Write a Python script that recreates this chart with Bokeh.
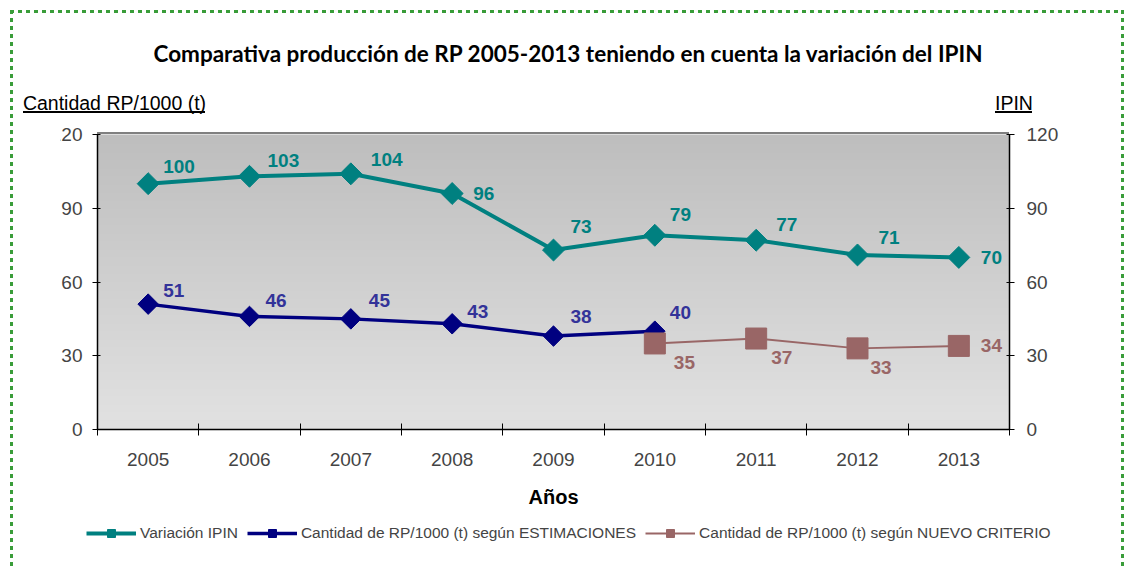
import numpy as np
from bokeh.plotting import figure
from bokeh.models import (Range1d, LinearAxis, FixedTicker, Legend, LegendItem,
                          ColumnDataSource, InlineStyleSheet)
from bokeh.core.properties import value
from bokeh.embed import file_html
from bokeh.resources import INLINE

# ---------------- data ----------------
years = [2005, 2006, 2007, 2008, 2009, 2010, 2011, 2012, 2013]
ipin = [100, 103, 104, 96, 73, 79, 77, 71, 70]
est_years = [2005, 2006, 2007, 2008, 2009, 2010]
est = [51, 46, 45, 43, 38, 40]
nuevo_years = [2010, 2011, 2012, 2013]
nuevo = [35, 37, 33, 34]
y_ticks = [0, 30, 60, 90, 120]

title_text = "Comparativa producción de RP 2005-2013 teniendo en cuenta la variación del IPIN"
left_title = "Cantidad RP/1000 (t)"
right_title = "IPIN"
x_title = "Años"
legend_labels = ["Variación IPIN",
                 "Cantidad de RP/1000 (t) según ESTIMACIONES",
                 "Cantidad de RP/1000 (t) según NUEVO CRITERIO"]

# label offsets (style, px)
ipin_off = [(15, -17), (18, -16), (20, -14), (21, 0), (17, -24), (15, -21), (20, -16), (21, -17), (22, 0)]
est_off = [(15, -14), (16, -16), (18, -18), (15, -12), (17, -20), (15, -19)]
nuevo_off = [(19, 19), (15, 19), (13, 19), (22, 0)]

TEAL = "#008080"
NAVY = "#000080"
BROWN = "#996666"
font = "Liberation Sans"

# ---------------- geometry (px) ----------------
FL, FR, FT, FB = 60, 1070, 122, 546          # drawing frame (includes the legend strip)
PL, PR, PT, PB = 97, 1009, 134, 429           # plot area inside the frame
YMAX = 120
XA, XB = min(years) - 0.5, max(years) + 0.5  # category bounds
ppx = (PR - PL) / (XB - XA)
ppy = (PB - PT) / YMAX
X0 = XA - (PL - FL) / ppx
X1 = XB + (FR - PR) / ppx
Y0 = -(FB - PB) / ppy
Y1 = YMAX + (PT - FT) / ppy

p = figure(frame_width=FR - FL, frame_height=FB - FT,
           x_range=Range1d(X0, X1), y_range=Range1d(Y0, Y1),
           output_backend="svg", toolbar_location=None,
           x_axis_type=None, y_axis_type=None,
           min_border_left=FL, min_border_right=1124 - FR,
           min_border_top=FT, min_border_bottom=23)
p.background_fill_alpha = 0
p.border_fill_alpha = 0
p.outline_line_color = None

# page decorations painted behind the canvas: dotted frame, underlines, top edge of plot area
G = "#3a9d3a"
css = (":host { background:"
       " linear-gradient(#000,#000) 23px 111px / 182px 2px no-repeat,"
       " linear-gradient(#000,#000) 995px 111px / 37px 2px no-repeat,"
       f" linear-gradient(#808080,#808080) {PL}px {PT - 2}px / {PR - PL}px 2px no-repeat,"
       f" repeating-linear-gradient(to right, {G} 0 4px, transparent 4px 8px) 10px 10px / 1114px 3px no-repeat,"
       f" repeating-linear-gradient(to bottom, {G} 0 4px, transparent 4px 8px) 10px 10px / 3px 700px no-repeat,"
       f" repeating-linear-gradient(to bottom, {G} 0 4px, transparent 4px 8px) 1121px 10px / 3px 700px no-repeat,"
       " white; }")
p.stylesheets = [InlineStyleSheet(css=css)]

# title
p.title.text = title_text
p.title.align = "left"
p.title.offset = 153 - FL
p.title.text_font = "Lato"
p.title.text_font_style = "bold"
p.title.text_font_size = "22.5px"
p.title.text_color = "black"
p.title.standoff = 31 + (PT - FT)

# gradient background of the plot area
n = 200
vals = np.linspace(226, 190, n).astype(np.uint8)
img = np.zeros((n, 1), dtype=np.uint32)
view = img.view(dtype=np.uint8).reshape((n, 1, 4))
view[:, 0, 0] = vals
view[:, 0, 1] = vals
view[:, 0, 2] = vals
view[:, 0, 3] = 255
p.image_rgba(image=[img], x=XA, y=0, dw=XB - XA, dh=YMAX)

# axes
xaxis = LinearAxis(ticker=FixedTicker(ticks=years, minor_ticks=[y - 0.5 for y in years] + [XB]),
                   fixed_location=0, bounds=(XA, XB),
                   major_tick_in=0, major_tick_out=0,
                   minor_tick_in=6, minor_tick_out=6, minor_tick_line_color="black",
                   axis_line_color="black", axis_line_width=1.5,
                   major_label_text_font=font, major_label_text_font_size="19px",
                   major_label_standoff=17,
                   axis_label=x_title, axis_label_text_font=font, axis_label_text_font_style="bold",
                   axis_label_text_font_size="20px", axis_label_standoff=17,
                   axis_label_text_color="black")
p.add_layout(xaxis, "below")
for side, standoff, loc in (("left", 10, XA), ("right", 12, XB)):
    ax = LinearAxis(ticker=FixedTicker(ticks=y_ticks), fixed_location=loc, bounds=(0, YMAX),
                    major_tick_in=3, major_tick_out=5, major_tick_line_color="black",
                    minor_tick_line_color=None,
                    axis_line_color="black", axis_line_width=1.5,
                    major_label_text_font=font, major_label_text_font_size="19px",
                    major_label_standoff=standoff)
    p.add_layout(ax, side)

# axis titles above the plot (left one over the left axis, right one over the right axis)
t_left = XA + (114 - PL) / ppx
t_right = XB + (1013.5 - PR) / ppx
top_axis = LinearAxis(ticker=FixedTicker(ticks=[t_left, t_right]),
                      major_label_overrides={t_left: left_title, t_right: right_title},
                      major_tick_in=0, major_tick_out=0, minor_tick_line_color=None,
                      axis_line_color=None,
                      major_label_text_font=font, major_label_text_font_size="19.5px",
                      major_label_text_color="black", major_label_standoff=21 - (PT - FT))
p.add_layout(top_axis, "above")

# series
src_i = ColumnDataSource(dict(x=years, y=ipin, t=[str(v) for v in ipin],
                              xo=[o[0] for o in ipin_off], yo=[o[1] for o in ipin_off]))
src_e = ColumnDataSource(dict(x=est_years, y=est, t=[str(v) for v in est],
                              xo=[o[0] for o in est_off], yo=[o[1] for o in est_off]))
src_n = ColumnDataSource(dict(x=nuevo_years, y=nuevo, t=[str(v) for v in nuevo],
                              xo=[o[0] for o in nuevo_off], yo=[o[1] for o in nuevo_off]))

l1 = p.line("x", "y", source=src_i, line_color=TEAL, line_width=4)
s1 = p.scatter("x", "y", source=src_i, marker="square", angle=np.pi / 4, size=15.5,
               fill_color=TEAL, line_color=TEAL)
l2 = p.line("x", "y", source=src_e, line_color=NAVY, line_width=3.5)
s2 = p.scatter("x", "y", source=src_e, marker="square", angle=np.pi / 4, size=14.5,
               fill_color=NAVY, line_color=NAVY)
l3 = p.line("x", "y", source=src_n, line_color=BROWN, line_width=2)
s3 = p.scatter("x", "y", source=src_n, marker="square", size=21,
               fill_color=BROWN, line_color=BROWN)

for src, col in ((src_i, TEAL), (src_e, "#333399"), (src_n, BROWN)):
    p.text("x", "y", text="t", source=src, x_offset="xo", y_offset="yo",
           text_font=value(font), text_font_style="bold", text_font_size="19px",
           text_color=col, text_align="left", text_baseline="middle")

# legend in the strip below the axis (inside the drawing frame)
legend = Legend(items=[LegendItem(label=legend_labels[0], renderers=[l1, s1]),
                       LegendItem(label=legend_labels[1], renderers=[l2, s2]),
                       LegendItem(label=legend_labels[2], renderers=[l3, s3])],
                orientation="horizontal", location=(86 - FL, FB - 543),
                glyph_width=50, glyph_height=20, label_standoff=4, spacing=9,
                padding=0, margin=0, border_line_color=None, background_fill_alpha=0,
                label_text_font=font, label_text_font_size="15.5px", label_height=20)
p.add_layout(legend, "center")

open("out.html", "w").write(file_html(p, INLINE))
